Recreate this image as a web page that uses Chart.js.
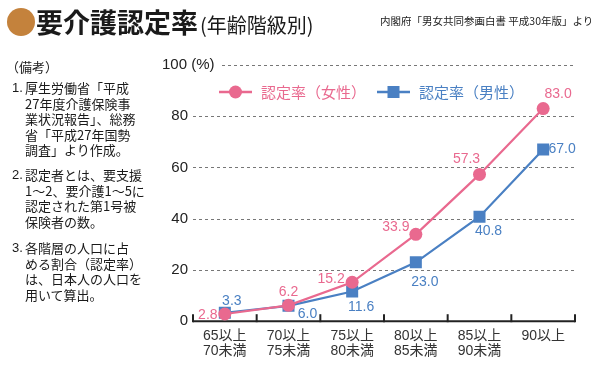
<!DOCTYPE html>
<html lang="ja">
<head>
<meta charset="utf-8">
<script src="https://cdn.jsdelivr.net/npm/chart.js@4.4.0/dist/chart.umd.min.js"></script>
<style>
  body { margin: 0; background: #fff; }
  #wrap { position: relative; width: 600px; height: 374px; overflow: hidden; font-family: "Noto Sans CJK JP", sans-serif; color: #222; }
  #chart { position: absolute; left: 0; top: 0; }
  .dot { position: absolute; left: 7px; top: 8px; width: 28px; height: 28px; border-radius: 50%; background: #c4823c; }
  .title { position: absolute; left: 36px; top: 2px; font-size: 27px; font-weight: bold; line-height: 40px; white-space: nowrap; color: #1a1a1a; }
  .title small { font-size: 20px; font-weight: normal; margin-left: 2px; }
  .src { position: absolute; left: 380px; top: 14px; font-size: 10.5px; line-height: 14px; white-space: nowrap; }
  .note { position: absolute; font-size: 13px; line-height: 15.6px; white-space: nowrap; color: #1a1a1a; }
  .note .n { position: absolute; left: 0; top: 0; font-family: "Liberation Sans", sans-serif; }
  .note .t { position: absolute; left: 13px; top: 0; }
</style>
</head>
<body>
<div id="wrap">
  <canvas id="chart" width="600" height="374"></canvas>
  <div class="dot"></div>
  <div class="title">要介護認定率<small>(年齢階級別)</small></div>
  <div class="src">内閣府「男女共同参画白書 平成30年版」より</div>
  <div class="note" style="left:6px;top:59px">（備考）</div>
  <div class="note" style="left:12px;top:80px"><span class="n">1.</span><span class="t">厚生労働省「平成<br>27年度介護保険事<br>業状況報告」、総務<br>省「平成27年国勢<br>調査」より作成。</span></div>
  <div class="note" style="left:12px;top:167px"><span class="n">2.</span><span class="t">認定者とは、要支援<br>1～2、要介護1～5に<br>認定された第1号被<br>保険者の数。</span></div>
  <div class="note" style="left:12px;top:240px"><span class="n">3.</span><span class="t">各階層の人口に占<br>める割合（認定率）<br>は、日本人の人口を<br>用いて算出。</span></div>
</div>
<script>
const ageFrom = ["65以上", "70以上", "75以上", "80以上", "85以上", "90以上"];
const ageTo = ["70未満", "75未満", "80未満", "85未満", "90未満", ""];
const femaleRate = [2.8, 6.2, 15.2, 33.9, 57.3, 83.0];
const maleRate = [3.3, 6.0, 11.6, 23.0, 40.8, 67.0];
const yTicks = [0, 20, 40, 60, 80, 100];
const femaleName = "認定率（女性）";
const maleName = "認定率（男性）";

const PINK = "#e9698f";
const BLUE = "#4a80c3";

// where each value label sits relative to its point
const femaleLabelPos = [[-17, 1], [0, -13], [-21, -3], [-20, -7], [-13, -15], [15, -14]];
const maleLabelPos = [[7, -12], [19, 8], [9, 16], [9, 20], [9, 14], [19, 0]];

const labels = ageFrom.map((a, i) => (ageTo[i] ? [a, ageTo[i]] : [a]));

const ctx = document.getElementById("chart").getContext("2d");

const decor = {
	id: "decor",
	beforeDatasetsDraw(chart) {
		const c = chart.ctx;
		const x = chart.scales.x;
		const y = chart.scales.y;
		const area = chart.chartArea;
		c.save();
		// dashed grid
		c.strokeStyle = "#777";
		c.lineWidth = 1;
		c.setLineDash([3, 3]);
		yTicks.forEach((v) => {
			if (v === 0) return;
			const py = Math.round(y.getPixelForValue(v)) + 0.5;
			c.beginPath();
			c.moveTo(v === 100 ? area.left + 29 : area.left, py);
			c.lineTo(area.right, py);
			c.stroke();
		});
		c.setLineDash([]);
		// y labels
		c.fillStyle = "#222";
		c.font = "15px 'Liberation Sans', sans-serif";
		c.textBaseline = "middle";
		yTicks.forEach((v) => {
			const py = y.getPixelForValue(v);
			if (v === 100) {
				c.textAlign = "left";
				c.fillText("100 (%)", area.left - 31, py);
			} else {
				c.textAlign = "right";
				c.fillText(String(v), area.left - 5, py);
			}
		});
		// x axis line and ticks
		const y0 = y.getPixelForValue(0);
		c.strokeStyle = "#222";
		c.lineWidth = 2;
		c.beginPath();
		c.moveTo(area.left, y0);
		c.lineTo(area.right, y0);
		c.stroke();
		const half = (x.getPixelForValue(1) - x.getPixelForValue(0)) / 2;
		for (let i = 0; i <= labels.length; i++) {
			const px = i < labels.length ? x.getPixelForValue(i) - half : x.getPixelForValue(i - 1) + half;
			c.beginPath();
			c.moveTo(px, y0 + 1);
			c.lineTo(px, y0 - 7);
			c.stroke();
		}
		// legend
		const ly = 92;
		const items = [
			{ x: 219, color: PINK, name: femaleName, shape: "circle" },
			{ x: 377, color: BLUE, name: maleName, shape: "rect" },
		];
		items.forEach((it) => {
			c.strokeStyle = it.color;
			c.fillStyle = it.color;
			c.lineWidth = 2.5;
			c.beginPath();
			c.moveTo(it.x, ly);
			c.lineTo(it.x + 33, ly);
			c.stroke();
			if (it.shape === "circle") {
				c.beginPath();
				c.arc(it.x + 16.5, ly, 6.5, 0, Math.PI * 2);
				c.fill();
			} else {
				c.fillRect(it.x + 10.5, ly - 6, 12, 12);
			}
			c.font = "15px 'Noto Sans CJK JP', sans-serif";
			c.textAlign = "left";
			c.fillText(it.name, it.x + 42, ly);
		});
		c.restore();
	},
	afterDatasetsDraw(chart) {
		const c = chart.ctx;
		c.save();
		c.font = "14px 'Liberation Sans', sans-serif";
		c.textAlign = "center";
		c.textBaseline = "middle";
		[[0, femaleRate, femaleLabelPos, PINK], [1, maleRate, maleLabelPos, BLUE]].forEach(([di, vals, pos, col]) => {
			const meta = chart.getDatasetMeta(di);
			c.fillStyle = col;
			meta.data.forEach((pt, i) => {
				c.fillText(vals[i].toFixed(1), pt.x + pos[i][0], pt.y + pos[i][1]);
			});
		});
		c.restore();
	},
};

new Chart(ctx, {
	type: "line",
	data: {
		labels: labels,
		datasets: [
			{
				label: femaleName,
				data: femaleRate,
				borderColor: PINK,
				backgroundColor: PINK,
				borderWidth: 2.2,
				pointStyle: "circle",
				pointRadius: 6.5,
				pointBorderWidth: 0,
				tension: 0,
			},
			{
				label: maleName,
				data: maleRate,
				borderColor: BLUE,
				backgroundColor: BLUE,
				borderWidth: 2.2,
				pointStyle: "rect",
				pointRadius: 8.5,
				pointBorderWidth: 0,
				tension: 0,
			},
		],
	},
	options: {
		responsive: false,
		animation: false,
		layout: { padding: { left: 193, right: 25, top: 65, bottom: 8 } },
		scales: {
			x: {
				offset: true,
				grid: { display: false, drawTicks: false },
				border: { display: false },
				ticks: {
					padding: 7,
					color: "#333",
					font: { size: 14, family: "'Liberation Sans', 'Noto Sans CJK JP', sans-serif", lineHeight: 1.1 },
					maxRotation: 0,
				},
			},
			y: {
				display: false,
				min: 0,
				max: 100,
			},
		},
		plugins: {
			legend: { display: false },
			tooltip: { enabled: false },
		},
	},
	plugins: [decor],
});
</script>
</body>
</html>
